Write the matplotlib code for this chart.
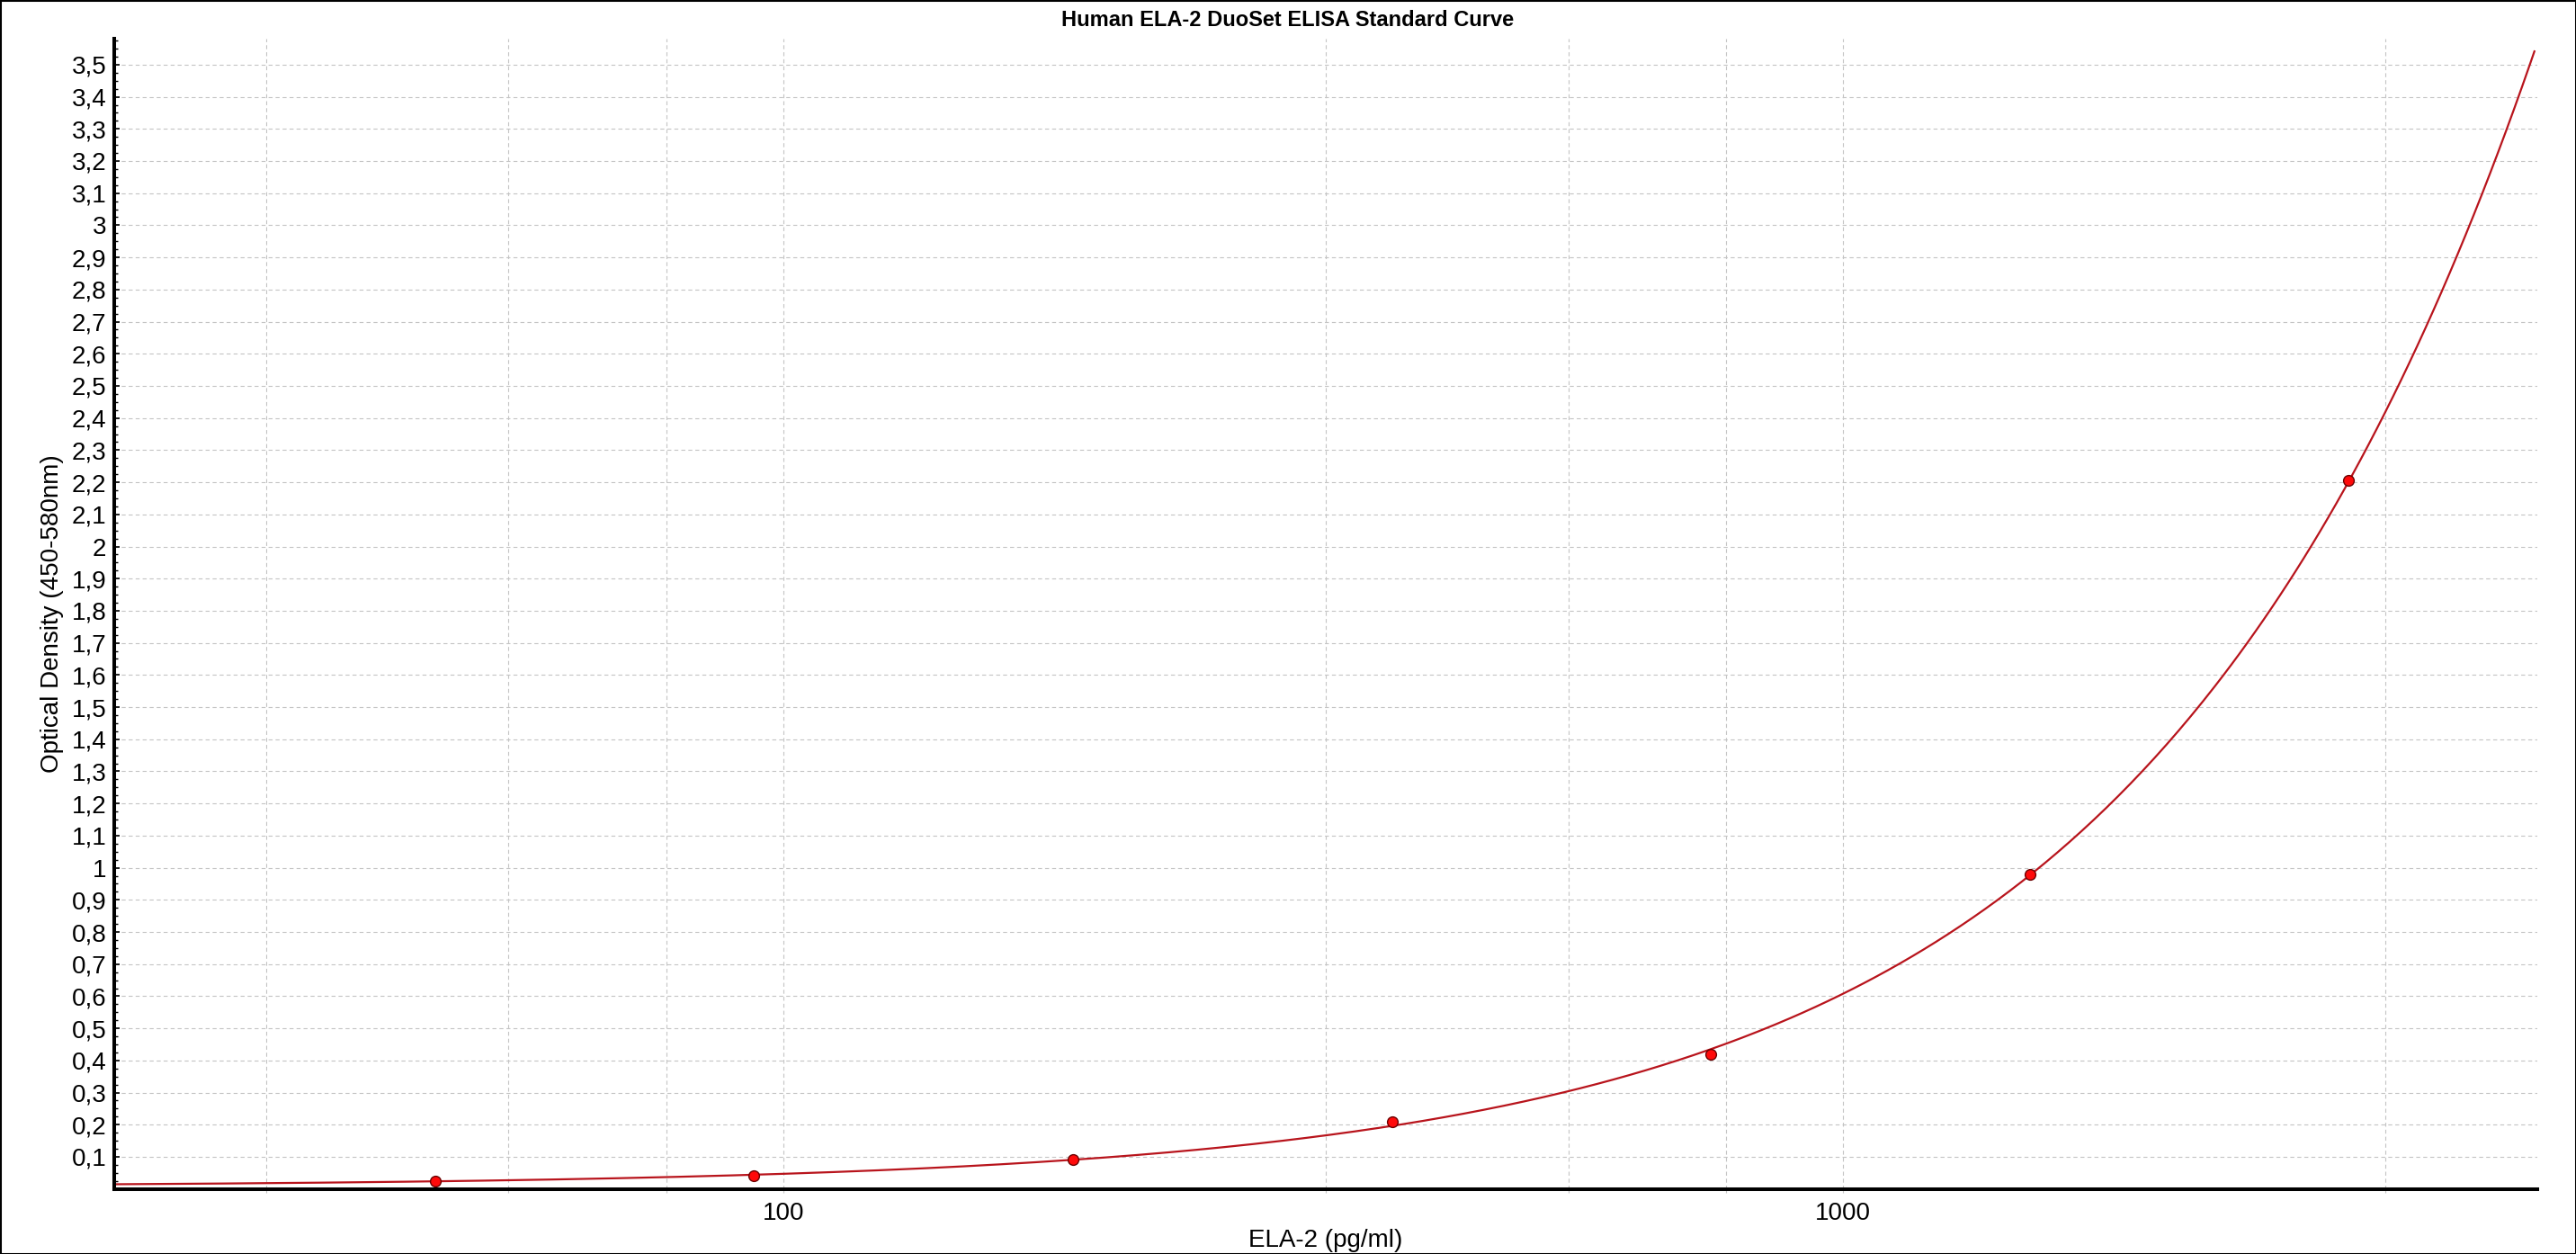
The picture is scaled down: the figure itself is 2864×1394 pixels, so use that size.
import matplotlib
matplotlib.use("Agg")
import matplotlib.pyplot as plt
from matplotlib.patches import Rectangle
from matplotlib.ticker import FixedLocator, FuncFormatter, NullFormatter
import numpy as np

# standards (2-fold dilution series) and measured OD
CONC = [46.875, 93.75, 187.5, 375.0, 750.0, 1500.0, 3000.0]
OD = [0.024, 0.042, 0.092, 0.210, 0.420, 0.978, 2.206]

X_MAJOR = [100, 1000]
X_MINOR = [32.5, 55, 77.5, 325, 550, 775, 3250]
Y_TICKS = [round(0.1 * i, 1) for i in range(1, 36)]

X_LIM = (23.33, 4516)
Y_LIM = (0.0, 3.58)
CURVE_RANGE = (23.33, 4490)

TITLE = "Human ELA-2 DuoSet ELISA Standard Curve"
XLABEL = "ELA-2 (pg/ml)"
YLABEL = "Optical Density (450-580nm)"


def fit_4pl(x, y):
    """4PL fit, 1/y weighted: grid search on slope/inflection,
    weighted linear least squares for the two asymptotes."""
    x = np.asarray(x, float)
    y = np.asarray(y, float)
    w = 1.0 / y
    bs = np.linspace(0.5, 3.0, 251)
    cs = 10 ** np.linspace(2.0, 9.0, 351)
    B, C = np.meshgrid(bs, cs, indexing="ij")
    g = 1.0 / (1.0 + (x[None, None, :] / C[..., None]) ** B[..., None])
    h = 1.0 - g
    s_gg = (w * g * g).sum(-1)
    s_hh = (w * h * h).sum(-1)
    s_gh = (w * g * h).sum(-1)
    s_gy = (w * g * y).sum(-1)
    s_hy = (w * h * y).sum(-1)
    det = s_gg * s_hh - s_gh ** 2
    a = (s_gy * s_hh - s_hy * s_gh) / det
    d = (s_hy * s_gg - s_gy * s_gh) / det
    resid = (w * (a[..., None] * g + d[..., None] * h - y) ** 2).sum(-1)
    i, j = np.unravel_index(np.nanargmin(resid), resid.shape)
    return a[i, j], d[i, j], B[i, j], C[i, j]


def four_pl(x, a, d, b, c):
    return d + (a - d) / (1.0 + (x / c) ** b)


plt.rcParams["font.family"] = ["Liberation Sans", "DejaVu Sans"]

fig = plt.figure(figsize=(28.64, 13.94), dpi=100)
ax = fig.add_axes([0.04424, 0.05187, 0.94064, 0.91707])

a, d, b, c = fit_4pl(CONC, OD)
xs = np.logspace(np.log10(CURVE_RANGE[0]), np.log10(CURVE_RANGE[1]), 600)
ax.plot(xs, four_pl(xs, a, d, b, c), color="#b8141c", lw=1.6, zorder=3)
ax.plot(CONC, OD, "o", ms=8.5, mfc="#ff0a0a", mec="#6a0000", mew=1.0, zorder=4)

ax.set_xscale("log")
ax.set_xlim(*X_LIM)
ax.set_ylim(*Y_LIM)

ax.xaxis.set_major_locator(FixedLocator(X_MAJOR))
ax.xaxis.set_minor_locator(FixedLocator(X_MINOR))
ax.xaxis.set_major_formatter(FuncFormatter(lambda v, p: f"{v:g}"))
ax.xaxis.set_minor_formatter(NullFormatter())

ax.yaxis.set_major_locator(FixedLocator(Y_TICKS))
ax.yaxis.set_minor_locator(FixedLocator(np.arange(0.025, 3.58, 0.025)))
ax.yaxis.set_major_formatter(FuncFormatter(lambda v, p: f"{v:g}".replace(".", ",")))

grid_kw = dict(color="#c4c4c4", lw=0.8, ls=(0, (4, 3)))
ax.xaxis.grid(True, which="both", **grid_kw)
ax.yaxis.grid(True, which="major", **grid_kw)
ax.set_axisbelow(True)

ax.tick_params(axis="x", which="both", direction="out", length=3, width=0.8,
               color="#c4c4c4", labelsize=20, pad=7)
ax.tick_params(axis="y", which="major", direction="in", length=4, width=1.2,
               color="black", labelsize=20, pad=6)
ax.tick_params(axis="y", which="minor", direction="in", length=3, width=1.0,
               color="black")

for side in ("top", "right"):
    ax.spines[side].set_visible(False)
for side in ("left", "bottom"):
    ax.spines[side].set_linewidth(2.9)
    ax.spines[side].set_zorder(5)

ax.set_xlabel(XLABEL, fontsize=20, labelpad=3)
ax.set_ylabel(YLABEL, fontsize=20, labelpad=6)
fig.text(0.5, 0.984, TITLE, ha="center", va="center", fontsize=17, fontweight="bold")

fig.add_artist(Rectangle((0, 0), 1, 1, transform=fig.transFigure, fill=False,
                         lw=2.2, edgecolor="black"))

fig.savefig("out.png", dpi=100)
